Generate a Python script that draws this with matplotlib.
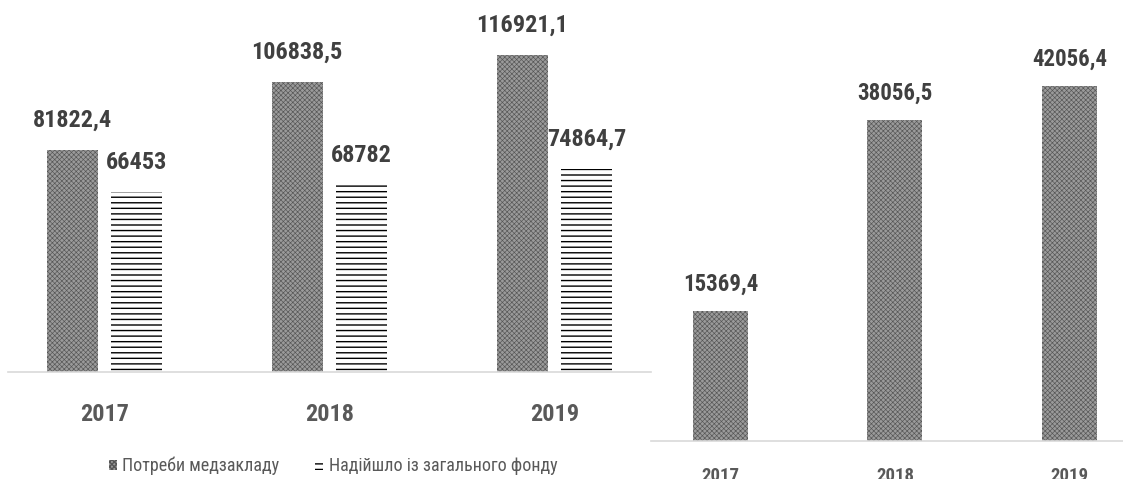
import matplotlib

matplotlib.use("Agg")
import matplotlib.pyplot as plt
from matplotlib.patches import Patch

plt.rcParams["font.family"] = ["Roboto Condensed", "Carlito", "DejaVu Sans"]

years = ["2017", "2018", "2019"]
needs = [81822.4, 106838.5, 116921.1]
received = [66453, 68782, 74864.7]
needs_labels = ["81822,4", "106838,5", "116921,1"]
received_labels = ["66453", "68782", "74864,7"]

special = [15369.4, 38056.5, 42056.4]
special_labels = ["15369,4", "38056,5", "42056,4"]

DENSE_FACE = "#9a9a9a"
DENSE_HATCH = "#555555"
VALUE_COLOR = "#404040"
YEAR_COLOR = "#595959"
AXIS_COLOR = "#d9d9d9"


def dense_bars(ax, x, heights, width):
    with plt.rc_context({"hatch.linewidth": 0.45, "hatch.color": DENSE_HATCH}):
        return ax.bar(x, heights, width, color=DENSE_FACE, edgecolor=DENSE_HATCH,
                      linewidth=0, hatch="xxxxxxx")


def lined_bars(ax, x, heights, width):
    with plt.rc_context({"hatch.linewidth": 1.0, "hatch.color": "black"}):
        return ax.bar(x, heights, width, color="white", edgecolor="black",
                      linewidth=0, hatch="---")


def style_axis(ax, pad, size):
    for side in ("left", "right", "top"):
        ax.spines[side].set_visible(False)
    ax.spines["bottom"].set_color(AXIS_COLOR)
    ax.spines["bottom"].set_linewidth(1.2)
    ax.set_yticks([])
    ax.tick_params(axis="x", length=0, pad=pad, labelsize=size, labelcolor=YEAR_COLOR)
    for t in ax.get_xticklabels():
        t.set_fontweight("bold")
    ax.patch.set_alpha(0)


fig = plt.figure(figsize=(11.23, 4.79), dpi=100)

# left: needs vs. general fund
ax1 = fig.add_axes([8 / 1123, 107 / 479, 643 / 1123, 372 / 479])
x = list(range(len(years)))
off = 0.287 / 2
w = 0.227
b1 = dense_bars(ax1, [i - off for i in x], needs, w)
b2 = lined_bars(ax1, [i + off for i in x], received, w)
ax1.set_xlim(-0.43, 2.43)
ax1.set_ylim(0, 137100)
ax1.set_xticks(x)
ax1.set_xticklabels(years)
style_axis(ax1, 22, 17.5)
ax1.bar_label(b1, labels=needs_labels, padding=13, fontsize=17.5, fontweight="bold",
              color=VALUE_COLOR)
ax1.bar_label(b2, labels=received_labels, padding=13, fontsize=17.5, fontweight="bold",
              color=VALUE_COLOR)

with plt.rc_context({"hatch.linewidth": 1.0}):
    handles = [
        Patch(facecolor=DENSE_FACE, edgecolor=DENSE_HATCH, linewidth=0, hatch="xxxxxxx"),
        Patch(facecolor="white", edgecolor="black", linewidth=0, hatch="---"),
    ]
fig.legend(handles, ["Потреби медзакладу", "Надійшло із загального фонду"],
           loc="center", bbox_to_anchor=(333 / 1123, 1 - 466 / 479), ncol=2,
           frameon=False, fontsize=13, labelcolor=YEAR_COLOR, handlelength=0.45,
           handleheight=0.45, handletextpad=0.3, columnspacing=2.0)

# right: special fund
ax2 = fig.add_axes([651 / 1123, 38 / 479, 472 / 1123, 441 / 479])
b3 = dense_bars(ax2, x, special, 0.315)
ax2.set_xlim(-0.398, 2.307)
ax2.set_ylim(0, 52250)
ax2.set_xticks(x)
ax2.set_xticklabels(years)
style_axis(ax2, 19, 13.5)
ax2.bar_label(b3, labels=special_labels, padding=11, fontsize=16.5, fontweight="bold",
              color=VALUE_COLOR)

fig.savefig("out.png", dpi=100)
